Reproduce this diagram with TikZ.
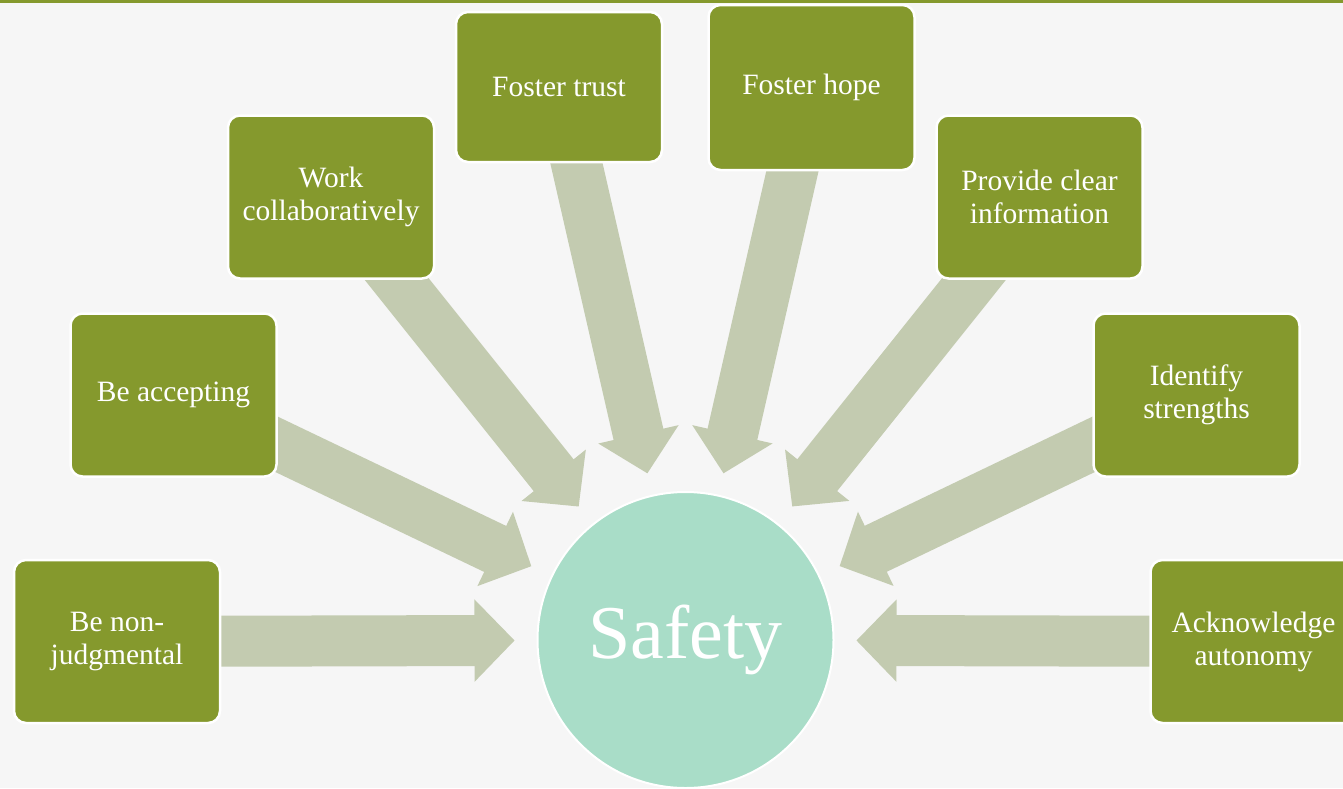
\documentclass[tikz,border=0pt]{standalone}
\usepackage{fontspec}
\setmainfont{Liberation Serif}
\usetikzlibrary{arrows.meta,calc,backgrounds}

\definecolor{leaf}{HTML}{85992D}
\definecolor{sage}{HTML}{C3CBB0}
\definecolor{mint}{HTML}{A9DDC8}
\definecolor{paper}{HTML}{F6F6F6}

\begin{document}
\begin{tikzpicture}[x=1pt, y=-1pt]
\tikzstyle{item}=[rectangle, rounded corners=12pt, fill=leaf, draw=white, line width=2.5pt, minimum width=206pt, minimum height=163pt, text=white, align=center, font=\fontsize{29.5}{33}\selectfont]
\tikzstyle{hub}=[circle, minimum size=296pt, fill=mint, draw=white, line width=2pt, text=white, font=\fontsize{76}{80}\selectfont]
\tikzstyle{connect}=[-{Triangle[width=82pt, length=40pt, line width=2pt]}, line width=51pt, draw=sage]
  \path[use as bounding box] (0,0) rectangle (1343,788);
  \clip (0,0) rectangle (1343,788);
  \node[hub] (safety) at (685.5,640) {Safety};
  \node[item] (nonjudg) at (117,641.5) {Be non-\\judgmental};
  \node[item] (accept) at (173.5,395) {Be accepting};
  \node[item] (collab) at (331,197) {Work\\collaboratively};
  \node[item, minimum height=150pt] (trust) at (559,87) {Foster trust};
  \node[item, minimum height=165pt] (hope) at (811.5,87.5) {Foster hope};
  \node[item] (info) at (1039.5,197) {Provide clear\\information};
  \node[item] (strength) at (1196.5,395) {Identify\\strengths};
  \node[item] (autonomy) at (1253.5,641.5) {Acknowledge\\autonomy};
  % paper and arrows go behind the boxes
  \begin{scope}[on background layer]
    \fill[paper] (0,0) rectangle (1343,788);
    \fill[leaf] (0,0) rectangle (1343,2.5);
    \foreach \n in {nonjudg,accept,collab,trust,hope,info,strength,autonomy}
      \path (\n.center) edge [connect] ($(safety)!171pt!(\n)$);
  \end{scope}
\end{tikzpicture}
\end{document}
